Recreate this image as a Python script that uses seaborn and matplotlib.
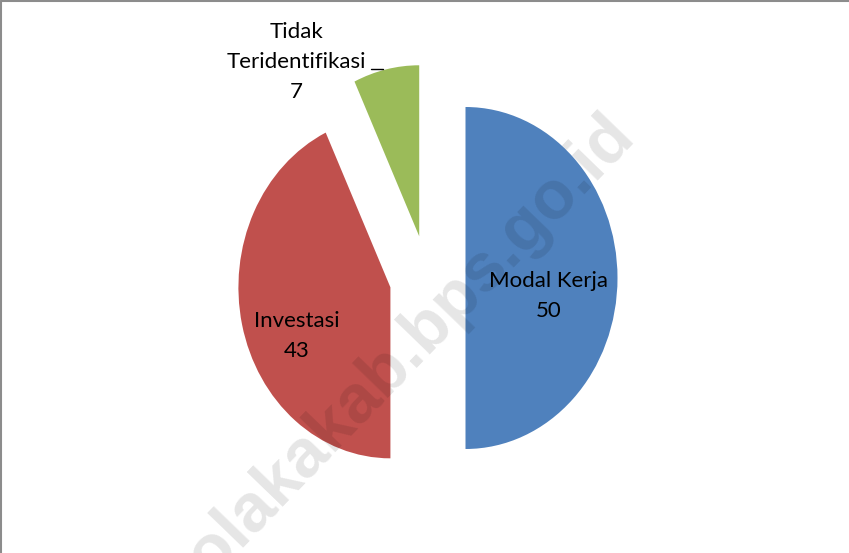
import matplotlib
matplotlib.use("Agg")
import matplotlib.pyplot as plt
import seaborn as sns
from matplotlib.lines import Line2D

# Data
categories = ["Modal Kerja", "Investasi", "Tidak\nTeridentifikasi"]
values = [50, 43, 7]
colors = ["#4F81BD", "#C0504D", "#9BBB59"]

sns.set_theme(style="white")
plt.rcParams["font.family"] = ["Lato", "DejaVu Sans"]

W, H = 849, 553
fig = plt.figure(figsize=(W / 100, H / 100), dpi=100)
ax = fig.add_axes([0, 0, 1, 1])

# pie geometry in pixels (slightly stretched vertically, like the Excel original)
cx, cy, rx, ry = 427.5, 278, 152, 171

def px(x, y):
    return (x - cx) / rx, (cy - y) / ry

ax.pie(values, colors=colors, startangle=90, counterclock=False,
       explode=[0.25] * len(values), wedgeprops=dict(linewidth=0))
ax.set_aspect("auto")
ax.set_xlim(-cx / rx, (W - cx) / rx)
ax.set_ylim(-(H - cy) / ry, cy / ry)
ax.axis("off")

# data labels
label_pos = [(549, 296), (297, 336), (296, 62)]
for name, v, (x, y) in zip(categories, values, label_pos):
    tx, ty = px(x, y)
    ax.text(tx, ty, f"{name}\n{v}", ha="center", va="center",
            fontsize=16, linespacing=1.6, color="black")

# small leader line for the green slice label
x0, y0 = px(371, 69)
x1, _ = px(383, 69)
ax.plot([x0, x1], [y0, y0], color="black", lw=1)

# watermark
fig.text(397 / W, 1 - 358 / H, "kolakakab.bps.go.id", rotation=46,
         ha="center", va="center", rotation_mode="anchor",
         fontsize=49, fontweight="bold", family="Liberation Sans",
         color="black", alpha=0.1)

# frame (top and left edges of the chart area)
fig.add_artist(Line2D([0.001, 1], [0.998, 0.998], transform=fig.transFigure,
                      color="#8c8c8c", lw=1.5))
fig.add_artist(Line2D([0.001, 0.001], [0, 0.998], transform=fig.transFigure,
                      color="#8c8c8c", lw=1.5))

fig.savefig("out.png", dpi=100)
